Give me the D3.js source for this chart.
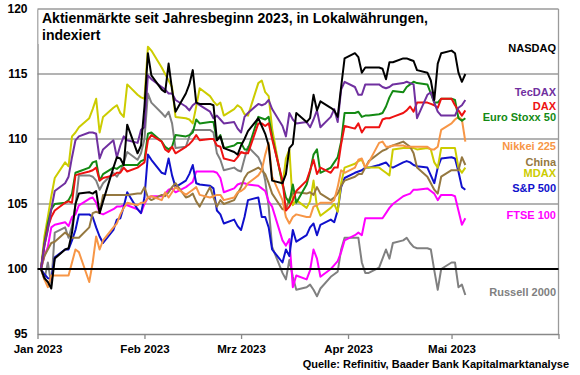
<!DOCTYPE html>
<html>
<head>
<meta charset="utf-8">
<title>Aktienmärkte 2023</title>
<style>
  body { margin: 0; background: #fff; }
  svg text { font-family: Arial, "Liberation Sans", sans-serif; font-weight: bold; }
</style>
</head>
<body>
<svg id="chart" width="580" height="375"></svg>
<script src="https://cdn.jsdelivr.net/npm/d3@7"></script>
<script>
// Handelstage (Mo-Fr) 2023
const dates = [
  "01-02","01-03","01-04","01-05","01-06","01-09","01-10","01-11","01-12","01-13",
  "01-16","01-17","01-18","01-19","01-20","01-23","01-24","01-25","01-26","01-27",
  "01-30","01-31","02-01","02-02","02-03","02-06","02-07","02-08","02-09","02-10",
  "02-13","02-14","02-15","02-16","02-17","02-20","02-21","02-22","02-23","02-24",
  "02-27","02-28","03-01","03-02","03-03","03-06","03-07","03-08","03-09","03-10",
  "03-13","03-14","03-15","03-16","03-17","03-20","03-21","03-22","03-23","03-24",
  "03-27","03-28","03-29","03-30","03-31","04-03","04-04","04-05","04-06","04-07",
  "04-10","04-11","04-12","04-13","04-14","04-17","04-18","04-19","04-20","04-21",
  "04-24","04-25","04-26","04-27","04-28","05-01","05-02","05-03","05-04","05-05"
]

const nasdaq = [100,99.3,99.0,98.5,100.8, 101.5,101.6,102.8,105.0,105.8, 105.9,105.8,106.0,104.3,105.2,
  107.8,108.6,108.5,108.0,111.1, 108.9,109.5,112.5,116.6,114.9, 113.8,113.6,115.8,113.8,112.1,
  113.5,114.2,115.3,112.8,112.7, 112.7,112.6,109.9,110.2,109.3, 109.0,108.8,109.5,110.0,110.6,
  111.6,111.0,110.4,109.5,106.8, 106.6,107.3,109.3,109.6,112.0, 111.3,111.6,113.4,112.2,112.9,
  112.4,112.2,111.7,114.0,116.2, 116.6,116.3,115.1,115.5,115.5, 115.5,115.4,114.6,115.9,115.9,
  116.2,116.2,116.1,116.0,115.3, 115.1,114.5,113.0,115.8,116.6, 116.8,116.6,115.1,114.4,115.0]
const tecdax = [100,101.8,103.0,104.6,106.0, 106.6,107.1,108.6,109.9,110.2, 110.5,110.5,110.4,108.5,109.2,
  109.9,108.6,109.5,110.2,109.9, 109.7,110.7,110.9,114.9,114.6, 114.0,113.8,113.5,113.5,113.0,
  112.5,112.2,112.6,112.8,112.6, 112.1,111.6,111.8,111.5,111.2, 111.3,110.8,110.5,111.7,112.0,
  112.7,112.6,112.7,113.0,112.3, 111.0,110.2,112.0,111.5,111.2, 111.3,110.9,111.5,112.2,110.9,
  111.7,112.3,111.3,113.8,114.4, 114.0,113.4,113.4,114.2,114.2, 114.2,114.0,113.9,114.0,114.2,
  114.3,114.4,114.3,114.2,111.6, 113.4,113.6,112.8,112.1,111.8, 111.8,111.8,112.4,112.6,113.0]
const dax = [100,101.8,103.2,104.0,104.5, 105.1,105.2,105.1,107.2,107.3, 107.5,107.6,107.8,106.8,107.0,
  107.2,107.4,107.4,107.8,107.5, 107.8,108.0,108.2,109.9,110.3, 109.8,109.2,109.0,109.4,108.9,
  109.4,109.6,109.9,110.3,109.9, 110.0,110.0,109.5,109.4,108.5, 108.3,108.6,109.0,108.9,108.9,
  111.2,111.2,111.0,111.2,110.0, 106.8,104.5,104.8,105.3,106.0, 106.8,107.6,108.4,107.3,107.8,
  107.4,107.8,107.8,109.6,111.0, 110.8,111.2,110.5,110.9,110.9, 110.9,111.5,111.6,111.6,111.7,
  112.0,112.2,112.5,112.1,112.8, 112.8,112.7,112.6,112.4,113.1, 113.1,112.6,112.2,111.8,112.2]
const eurostoxx = [100,102.0,103.5,104.6,105.0, 105.1,105.3,105.8,107.4,107.5, 107.8,108.2,108.3,106.8,107.3,
  107.8,107.7,107.9,108.0,108.0, 108.0,108.3,108.4,110.4,110.5, 109.8,109.4,109.2,109.4,110.3,
  110.2,110.3,110.5,111.5,111.2, 111.3,111.3,109.9,110.3,109.3, 109.5,109.7,109.7,109.2,109.2,
  111.7,111.6,111.5,111.7,110.2, 106.6,105.5,105.1,106.5,105.1, 106.5,107.5,108.8,109.2,107.4,
  107.8,108.2,108.6,109.8,112.0, 112.0,112.1,111.7,111.8,111.8, 111.9,112.0,112.5,113.2,113.7,
  113.6,114.0,114.2,114.4,114.3, 114.2,113.5,112.8,112.8,113.1, 113.1,113.0,111.6,111.4,111.6]
const nikkei = [100,99.2,98.6,99.5,99.5, 99.5,99.5,100.5,101.5,101.3, 99.0,100.5,102.5,101.5,102.2,
  103.2,103.5,104.2,104.7,105.1, 104.9,105.1,105.1,105.5,105.6, 105.3,105.9,105.5,105.9,106.3,
  105.7,105.9,106.1,106.3,105.7, 105.5,105.6,105.7,105.7,105.3, 105.5,105.9,106.0,106.2,106.6,
  107.2,107.6,108.8,109.7,107.1, 105.3,104.0,103.5,104.0,104.2, 104.0,104.0,104.8,104.9,105.1,
  105.1,105.3,106.3,107.6,107.4, 107.8,108.4,108.5,107.8,108.2, 109.7,109.8,109.4,109.4,109.5,
  109.5,109.4,109.4,109.4,109.4, 109.4,109.2,109.2,109.4,110.7, 111.2,111.5,111.7,111.5,109.8]
const china = [100,101.0,101.5,102.0,102.1, 102.8,102.6,102.4,102.4,102.4, 103.2,104.3,104.4,104.3,105.7,
  105.7,105.7,105.7,105.7,105.7, 105.8,105.8,106.3,105.5,105.3, 105.7,105.6,105.9,106.3,106.6,
  105.5,105.6,105.8,105.2,104.8, 106.3,105.5,104.8,105.3,105.0, 105.3,105.8,106.3,107.0,107.4,
  107.8,107.6,107.3,106.6,105.8, 104.6,104.6,105.4,105.8,105.9, 105.8,105.9,105.7,106.3,105.8,
  105.3,105.5,105.8,106.4,106.8, 107.1,107.3,107.3,107.8,108.3, 108.9,109.1,109.2,109.4,109.5,
  109.8,109.6,109.4,108.9,107.8, 107.1,106.6,106.1,105.8,107.1, 107.6,107.6,107.6,108.6,108.0]
const mdax = [100,102.5,104.0,105.6,107.0, 108.2,107.9,110.2,110.5,110.9, 111.6,112.3,113.1,110.5,111.7,
  112.4,112.6,112.0,111.7,114.2, 113.4,113.2,113.1,117.1,116.8, 115.5,115.0,114.5,114.0,111.7,
  111.6,111.5,111.2,112.5,113.9, 113.3,112.9,112.6,112.8,111.8, 112.3,112.6,112.4,111.9,111.8,
  114.3,114.5,113.6,113.3,110.8, 106.4,108.5,109.2,104.9,105.3, 104.7,105.2,106.8,104.8,104.1,
  104.7,105.0,104.4,106.6,107.8, 108.1,108.3,108.4,107.8,107.8, 107.8,107.6,107.4,107.2,109.2,
  109.3,109.3,109.3,109.3,109.2, 109.3,109.2,108.2,107.8,109.3, 109.3,109.3,107.8,107.4,107.8]
const sp500 = [100,99.6,99.3,99.2,100.9, 101.5,101.5,102.2,103.0,104.2, 104.2,104.0,103.2,102.5,102.0,
  103.0,103.8,103.9,104.8,105.9, 104.6,104.3,105.5,108.8,108.4, 107.4,107.3,108.5,107.2,106.3,
  106.8,107.3,108.0,106.6,106.5, 106.4,106.2,104.5,104.2,103.5, 103.8,103.3,103.0,104.0,105.3,
  105.5,104.0,104.0,103.2,101.5, 100.5,101.5,101.0,103.0,102.1, 102.6,103.2,103.5,102.6,103.4,
  103.8,103.6,104.5,106.3,107.0, 107.4,107.5,107.6,107.8,107.8, 108.0,108.1,108.2,107.9,107.8,
  108.2,108.3,108.2,108.0,107.9, 107.8,107.2,106.6,107.8,108.5, 108.6,108.5,107.5,106.3,106.1]
const ftse = [100,101.0,101.7,103.2,103.4, 103.6,103.3,104.0,104.2,104.9, 105.4,105.5,105.1,104.3,104.2,
  104.6,104.8,104.8,104.9,104.9, 104.6,104.3,105.0,105.5,105.6, 105.6,105.8,106.1,106.2,105.9,
  106.3,106.5,106.7,107.5,107.5, 107.5,107.5,107.4,107.0,105.9, 106.2,106.5,106.6,106.6,106.5,
  106.4,106.2,106.0,105.2,104.8, 102.2,101.8,102.3,98.6,99.5, 99.2,99.9,101.5,100.8,99.4,
  100.0,100.3,100.6,101.3,102.2, 102.6,102.8,102.6,103.9,103.9, 103.9,103.9,104.3,104.7,105.0,
  105.6,105.7,105.8,106.1,106.1, 106.2,106.0,105.8,105.3,105.7, 105.7,105.6,104.5,103.4,103.9]
const russell = [100,99.2,100.5,98.8,102.8, 103.2,102.4,103.3,104.9,107.2, 107.2,107.1,106.8,106.1,106.6,
  107.4,107.1,107.5,108.2,109.0, 108.4,108.9,110.0,113.5,112.8, 112.0,111.7,112.1,111.2,109.3,
  109.4,110.2,110.7,110.7,110.7, 110.7,110.5,108.9,108.4,107.6, 107.8,107.6,107.5,108.5,109.4,
  108.6,108.0,106.8,104.8,101.7, 99.7,99.2,100.7,99.4,98.4, 98.6,98.8,98.4,97.9,98.5,
  99.4,99.6,99.8,101.5,102.4, 102.4,102.4,100.5,99.7,99.7, 100.1,100.8,101.5,100.8,102.0,
  102.2,102.4,102.0,101.7,101.6, 101.6,101.5,99.9,98.4,100.0, 100.5,100.5,98.6,98.8,98.0]

const yTicks = [95, 100, 105, 110, 115, 120]
const monthTicks = ["2023-01-01","2023-02-01","2023-03-01","2023-04-01","2023-05-01","2023-06-01"]
const monthLabels = ["Jan 2023","Feb 2023","Mrz 2023","Apr 2023","Mai 2023",""]

// Reihen: Name, Farbe, Werte, Beschriftungs-Grundlinie
const series = [
  { name: "Russell 2000", color: "#808080", values: russell, ly: 296 },
  { name: "FTSE 100", color: "#ff00ff", values: ftse, ly: 219 },
  { name: "S&P 500", color: "#1010cc", values: sp500, ly: 192 },
  { name: "MDAX", color: "#cccc00", values: mdax, ly: 177 },
  { name: "China", color: "#957840", values: china, ly: 166 },
  { name: "Nikkei 225", color: "#f79646", values: nikkei, ly: 150 },
  { name: "Euro Stoxx 50", color: "#138a13", values: eurostoxx, ly: 121 },
  { name: "DAX", color: "#ee1111", values: dax, ly: 110 },
  { name: "TecDAX", color: "#7030a0", values: tecdax, ly: 96 },
  { name: "NASDAQ", color: "#000000", values: nasdaq, ly: 52 }
]

const parse = d3.utcParse("%Y-%m-%d")
const days = dates.map(d => parse("2023-" + d))

const svg = d3.select("#chart")
const pLeft = 37.5, pRight = 558.5, pTop = 9, pBottom = 334

const x = d3.scaleUtc().domain([parse(monthTicks[0]), parse(monthTicks[5])]).range([pLeft, pRight])
const y = d3.scaleLinear().domain([95, 120]).range([pBottom, pTop])

// Gitterlinien
svg.append("g").selectAll("line").data([105, 110, 115, 120]).enter().append("line")
  .attr("x1", pLeft).attr("x2", pRight)
  .attr("y1", d => y(d)).attr("y2", d => y(d))
  .attr("stroke", "#9a9a9a").attr("stroke-width", 1.3)

// Rahmen rechts
svg.append("line").attr("x1", pRight).attr("x2", pRight).attr("y1", pTop).attr("y2", pBottom)
  .attr("stroke", "#9a9a9a").attr("stroke-width", 1.3)

// x-Achse
const xAxis = svg.append("g").attr("transform", `translate(0,${pBottom})`)
  .call(d3.axisBottom(x).tickValues(monthTicks.map(parse)).tickSize(5).tickSizeOuter(0)
    .tickFormat((d, i) => monthLabels[i]))
xAxis.select(".domain").attr("stroke", "#888").attr("stroke-width", 1.3)
xAxis.selectAll(".tick line").attr("stroke", "#888").attr("stroke-width", 1.3)
xAxis.selectAll(".tick text").attr("font-size", 11.5).attr("fill", "#000")
  .attr("font-family", null).attr("dy", "0.71em").attr("y", 11)

// y-Achse
const yAxis = svg.append("g").attr("transform", `translate(${pLeft},0)`)
  .call(d3.axisLeft(y).tickValues(yTicks).tickSize(0).tickPadding(10).tickSizeOuter(0))
yAxis.select(".domain").attr("stroke", "#888").attr("stroke-width", 1.3)
yAxis.selectAll(".tick text").attr("font-size", 12).attr("fill", "#000").attr("font-family", null)

// Linien
const line = d3.line().x((d, i) => x(days[i])).y(d => y(d))
svg.append("g").selectAll("path").data(series).enter().append("path")
  .attr("fill", "none")
  .attr("stroke", d => d.color).attr("stroke-width", 2)
  .attr("stroke-linejoin", "round")
  .attr("d", d => line(d.values))

// Linie bei 100
svg.append("line").attr("x1", pLeft).attr("x2", pRight).attr("y1", y(100)).attr("y2", y(100))
  .attr("stroke", "#000").attr("stroke-width", 2)

// Beschriftung der Reihen
svg.append("g").selectAll("text").data(series).enter().append("text")
  .attr("x", 556).attr("y", d => d.ly)
  .attr("text-anchor", "end").attr("font-size", 11)
  .attr("fill", d => d.color)
  .text(d => d.name)

// Titel
svg.append("rect").attr("x", pLeft + 1).attr("y", 10).attr("width", 410).attr("height", 34).attr("fill", "#fff")
svg.append("text").attr("x", 42).attr("y", 23).attr("font-size", 14)
  .text("Aktienmärkte seit Jahresbeginn 2023, in Lokalwährungen,")
svg.append("text").attr("x", 42).attr("y", 40).attr("font-size", 14).text("indexiert")

// Quelle
svg.append("text").attr("x", 569).attr("y", 368).attr("text-anchor", "end").attr("font-size", 11)
  .text("Quelle: Refinitiv, Baader Bank Kapitalmarktanalyse")
</script>
</body>
</html>
